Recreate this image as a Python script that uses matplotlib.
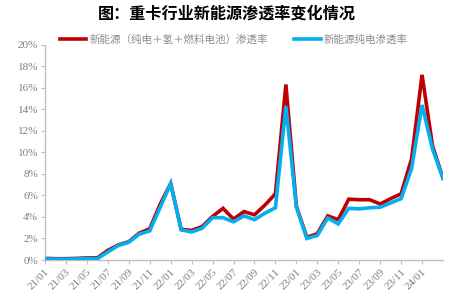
import matplotlib
matplotlib.use("Agg")
import matplotlib.pyplot as plt
import numpy as np

# ---- data ----
months = ["21/01","21/02","21/03","21/04","21/05","21/06","21/07","21/08","21/09","21/10","21/11","21/12",
          "22/01","22/02","22/03","22/04","22/05","22/06","22/07","22/08","22/09","22/10","22/11","22/12",
          "23/01","23/02","23/03","23/04","23/05","23/06","23/07","23/08","23/09","23/10","23/11","23/12",
          "24/01","24/02","24/03"]
total_pct = [0.15, 0.12, 0.12, 0.15, 0.20, 0.20, 0.90, 1.40, 1.70, 2.50, 2.90, 5.20,
             7.10, 2.85, 2.75, 3.10, 4.05, 4.80, 3.80, 4.50, 4.20, 5.10, 6.15, 16.30,
             5.00, 2.10, 2.45, 4.10, 3.75, 5.65, 5.60, 5.60, 5.20, 5.70, 6.15, 9.40,
             17.20, 10.60, 7.60]
bev_pct = [0.10, 0.08, 0.08, 0.10, 0.15, 0.12, 0.75, 1.35, 1.65, 2.40, 2.70, 4.90,
           7.10, 2.80, 2.60, 2.95, 3.93, 3.93, 3.55, 4.10, 3.75, 4.35, 4.85, 14.30,
           4.90, 2.00, 2.28, 3.90, 3.35, 4.80, 4.75, 4.85, 4.90, 5.30, 5.70, 8.50,
           14.40, 10.30, 7.60]
tick_labels = ["21/01","21/03","21/05","21/07","21/09","21/11","22/01","22/03","22/05","22/07",
               "22/09","22/11","23/01","23/03","23/05","23/07","23/09","23/11","24/01"]
y_ticks = [0, 2, 4, 6, 8, 10, 12, 14, 16, 18, 20]
series_names = ["新能源（纯电＋氢＋燃料电池）渗透率", "新能源纯电渗透率"]
title = "图：重卡行业新能源渗透率变化情况"

plt.rcParams['font.family'] = ['Noto Sans CJK SC', 'DejaVu Sans']

fig = plt.figure(figsize=(4.72, 2.97), dpi=100)
ax = fig.add_axes([45/472, 1-260/297, (443-45)/472, (260-44.7)/297])

x = np.arange(len(months))
ax.plot(x, total_pct, color="#C00000", lw=2.6, solid_joinstyle='miter', label=series_names[0], zorder=2)
ax.plot(x, bev_pct, color="#00B0F0", lw=2.6, solid_joinstyle='miter', label=series_names[1], zorder=3)

ax.set_xlim(0, len(months)-1)
ax.set_ylim(0, 20)

tick_pos = [months.index(t) for t in tick_labels]
ax.set_xticks(tick_pos)
ax.set_xticklabels(tick_labels, rotation=45, ha='right', rotation_mode='anchor',
                   family='Liberation Serif', fontsize=8, color='#7F7F7F')
ax.set_yticks(y_ticks)
ax.set_yticklabels([f"{v}%" for v in y_ticks], family='Liberation Serif', fontsize=8, color='#7F7F7F')

for s in ['top', 'right']:
    ax.spines[s].set_visible(False)
for s in ['left', 'bottom']:
    ax.spines[s].set_color('#BFBFBF')
    ax.spines[s].set_linewidth(1.0)
ax.tick_params(axis='both', direction='out', length=3, width=0.8, color='#BFBFBF', pad=2)

fig.text(227/472, 1-14/297, title, ha='center', va='center', fontsize=11.6, fontweight='bold', color='black')

fig.legend(loc='center left', bbox_to_anchor=(60/472, 1-40/297), ncol=2, frameon=False,
           fontsize=7.6, handlelength=2.5, handletextpad=0.3, columnspacing=2.5,
           labelcolor='#8C8C8C', borderaxespad=0, borderpad=0)

fig.savefig("out.png", dpi=100)
